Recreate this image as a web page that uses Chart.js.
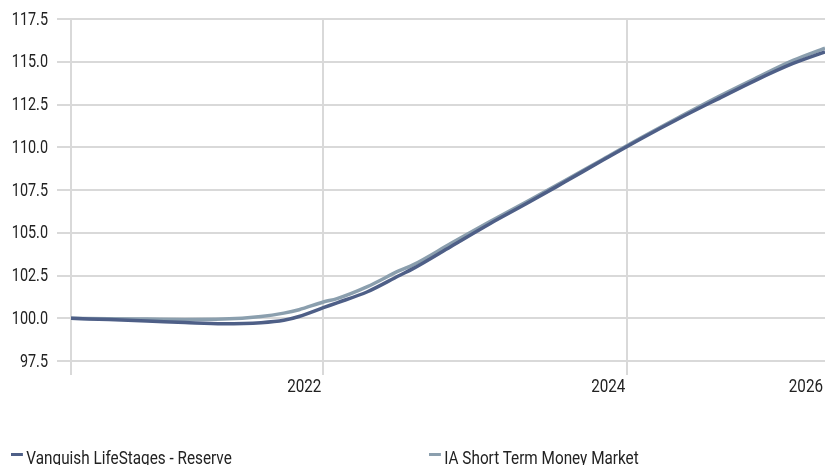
<!DOCTYPE html>
<html>
<head>
<meta charset="utf-8">
<script src="https://cdn.jsdelivr.net/npm/chart.js@4.4.1/dist/chart.umd.min.js"></script>
<style>
  html, body { margin: 0; padding: 0; background: #fff; }
  #wrap { position: relative; width: 825px; height: 465px; overflow: hidden; }
  #chart { display: block; }
  .legend-item {
    position: absolute; top: 449px; white-space: nowrap;
    font: 18px/18px Roboto, 'DejaVu Sans Condensed', sans-serif;
    color: #222; padding-left: 18px;
    transform: scaleX(0.85); transform-origin: 0 0;
  }
  .legend-item .sw { position: absolute; left: 0; top: 4px; width: 14px; height: 3px; }
</style>
</head>
<body>
<div id="wrap">
  <canvas id="chart" width="825" height="465"></canvas>
</div>
<script>
// values (decimal years on x)
const xYears = [2020.34, 2020.59, 2020.84, 2021.09, 2021.34, 2021.59, 2021.74, 2021.84, 2022.0, 2022.09,
  2022.29, 2022.5, 2022.59, 2022.84, 2023.09, 2023.34, 2023.59, 2023.84, 2024.09, 2024.34,
  2024.59, 2024.84, 2025.09, 2025.30];
const vanquish = [100.00, 99.92, 99.84, 99.75, 99.68, 99.74, 99.88, 100.10, 100.62, 100.90,
  101.55, 102.50, 102.90, 104.20, 105.50, 106.72, 107.98, 109.25, 110.50, 111.68,
  112.80, 113.90, 114.90, 115.58];
const iaShortTerm = [100.00, 99.97, 99.95, 99.93, 99.95, 100.10, 100.30, 100.50, 100.95, 101.15,
  101.85, 102.78, 103.12, 104.38, 105.62, 106.82, 108.05, 109.30, 110.55, 111.75,
  112.92, 114.02, 115.08, 115.80];
const seriesNames = ['Vanquish LifeStages - Reserve', 'IA Short Term Money Market'];
const seriesColors = ['#4e5f87', '#8b9fae'];
const yTickValues = [97.5, 100, 102.5, 105, 107.5, 110, 112.5, 115, 117.5];
const xTickValues = [2020.34, 2022, 2024, 2025.30];
const xTickLabels = ['', '2022', '2024', '2026'];

const fontFamily = 'Roboto, sans-serif';
const gridColor = '#d9d9d9';
const textColor = '#222';
const squeeze = 0.8; // the original uses a condensed face

function toPoints(values) {
  return values.map((v, i) => ({ x: xYears[i], y: v }));
}

// draws the tick labels in a narrowed form, like the condensed font of the original
const condensedTicks = {
  id: 'condensedTicks',
  afterDraw(chart) {
    const { ctx, scales, chartArea } = chart;
    ctx.save();
    ctx.fillStyle = textColor;
    ctx.textAlign = 'right';

    ctx.font = `18px ${fontFamily}`;
    ctx.textBaseline = 'middle';
    scales.y.ticks.forEach((t) => {
      const y = scales.y.getPixelForValue(t.value);
      ctx.save();
      ctx.translate(chartArea.left - 14 - 9, y + 1);
      ctx.scale(squeeze, 1);
      ctx.fillText(t.label, 0, 0);
      ctx.restore();
    });

    ctx.font = `19px ${fontFamily}`;
    ctx.textBaseline = 'top';
    scales.x.ticks.forEach((t, i) => {
      if (!xTickLabels[i]) return;
      const x = Math.min(scales.x.getPixelForValue(t.value) - 2, chart.width - 2);
      ctx.save();
      ctx.translate(x, chartArea.bottom + 14 + 3);
      ctx.scale(squeeze, 1);
      ctx.fillText(xTickLabels[i], 0, 0);
      ctx.restore();
    });
    ctx.restore();
  },
};

new Chart(document.getElementById('chart'), {
  type: 'line',
  data: {
    datasets: [vanquish, iaShortTerm].map((values, i) => ({
      label: seriesNames[i],
      data: toPoints(values),
      borderColor: seriesColors[i],
      backgroundColor: seriesColors[i],
      borderWidth: 3.5,
      pointRadius: 0,
      cubicInterpolationMode: 'monotone',
      fill: false,
    })),
  },
  options: {
    responsive: false,
    animation: false,
    layout: { padding: { top: 19, right: 0, bottom: 64, left: 0 } },
    plugins: { legend: { display: false }, tooltip: { enabled: false } },
    scales: {
      x: {
        type: 'linear',
        min: xTickValues[0],
        max: xTickValues[xTickValues.length - 1],
        afterBuildTicks: (scale) => { scale.ticks = xTickValues.map((v) => ({ value: v })); },
        afterFit: (scale) => {
          scale.height = 40;
          scale.paddingLeft = 0;
          scale.paddingRight = 0;
        },
        ticks: {
          callback: (v, i) => xTickLabels[i],
          align: 'end',
          maxRotation: 0,
          autoSkip: false,
          color: 'rgba(0,0,0,0)',
          font: { family: fontFamily, size: 18 },
        },
        grid: {
          color: (ctx) => (ctx.index === xTickValues.length - 1 ? 'rgba(0,0,0,0)' : gridColor),
          lineWidth: 2,
          tickLength: 14,
        },
        border: { display: false },
      },
      y: {
        min: yTickValues[0],
        max: yTickValues[yTickValues.length - 1],
        afterBuildTicks: (scale) => { scale.ticks = yTickValues.map((v) => ({ value: v })); },
        afterFit: (scale) => { scale.width = 71; },
        ticks: {
          callback: (v) => Number(v).toFixed(1),
          color: 'rgba(0,0,0,0)',
          font: { family: fontFamily, size: 18 },
        },
        grid: { color: gridColor, lineWidth: 2, tickLength: 14 },
        border: { display: false },
      },
    },
  },
  plugins: [condensedTicks],
});

// legend under the plot
const wrap = document.getElementById('wrap');
const legendLeft = [11, 429];
seriesNames.forEach((name, i) => {
  const item = document.createElement('div');
  item.className = 'legend-item';
  item.style.left = legendLeft[i] + 'px';
  item.innerHTML = `<span class="sw" style="background:${seriesColors[i]}"></span>${name}`;
  wrap.appendChild(item);
});
</script>
</body>
</html>
